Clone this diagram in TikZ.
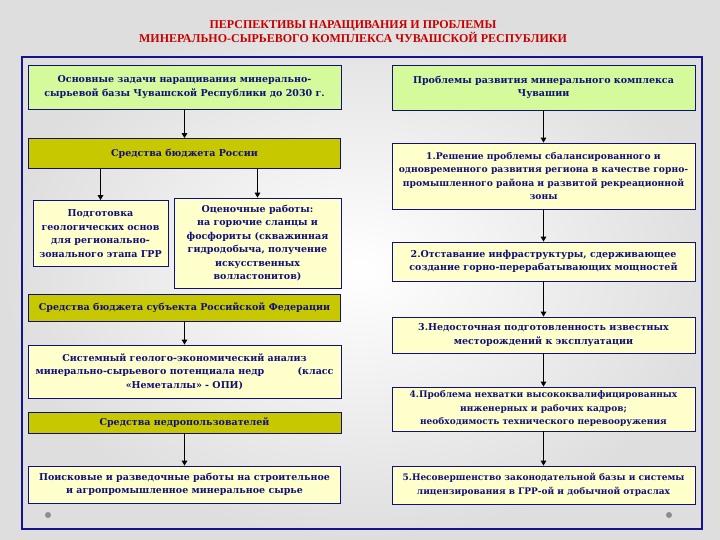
\documentclass[tikz,border=0pt]{standalone}
\usepackage{fontspec}
\setmainfont{DejaVu Serif}
\newfontfamily\titlefont{Liberation Serif}
\usetikzlibrary{arrows.meta}
\definecolor{bxblue}{HTML}{10107A}
\definecolor{frblue}{HTML}{14148C}
\definecolor{bxgreen}{HTML}{D4FA9C}
\definecolor{bxolive}{HTML}{C8C800}
\definecolor{bxyellow}{HTML}{FFFFCC}
\definecolor{ttred}{HTML}{C80000}
\begin{document}
\begin{tikzpicture}[x=1pt,y=-1pt,
  box/.style={draw=bxblue, line width=0.8pt, text=bxblue,
    font=\bfseries\fontsize{9.5}{13.5}\selectfont, align=center, inner sep=1pt},
  smallfont/.style={font=\bfseries\fontsize{9}{13.5}\selectfont},
  gbox/.style={box, fill=bxgreen},
  obox/.style={box, fill=bxolive},
  ybox/.style={box, fill=bxyellow},
  arr/.style={-{Triangle[length=5pt,width=5.5pt]}, line width=1.9pt, black}]
\useasboundingbox (0,0) rectangle (720,540);
\shade[inner color=white, outer color=black!13] (0,0) rectangle (720,540);
\draw[frblue, line width=2.3pt] (22,57) rectangle (702,529);

\node[font=\titlefont\bfseries\fontsize{12}{14}\selectfont, text=ttred, align=center] (title) at (353,32)
  {ПЕРСПЕКТИВЫ НАРАЩИВАНИЯ И ПРОБЛЕМЫ\\МИНЕРАЛЬНО-СЫРЬЕВОГО КОМПЛЕКСА ЧУВАШСКОЙ РЕСПУБЛИКИ};

% left column
\node[gbox, minimum width=313pt, minimum height=44pt] (ta) at (184.5,87)
  {Основные задачи наращивания минерально-\\сырьевой базы Чувашской Республики до 2030 г.};
\node[obox, minimum width=312pt, minimum height=30pt] (fed) at (184.5,153.5)
  {Средства бюджета России};
\node[ybox, minimum width=135pt, minimum height=66pt] (p1) at (100.5,233.5)
  {Подготовка\\геологических основ\\для регионально-\\зонального этапа ГРР};
\node[ybox, minimum width=167pt, minimum height=90pt] (p2) at (257.5,243)
  {Оценочные работы:\\на горючие сланцы и\\фосфориты (скважинная\\гидродобыча, получение\\искусственных\\волластонитов)};
\node[obox, minimum width=312pt, minimum height=27pt] (sub) at (184.5,307.5)
  {Средства бюджета субъекта Российской Федерации};
\node[ybox, minimum width=313pt, minimum height=53pt] (sys) at (184.5,371.5)
  {Системный геолого-экономический анализ\\\makebox[298pt]{минерально-сырьевого потенциала недр\hfill(класс}\\«Неметаллы» - ОПИ)};
\node[obox, minimum width=313pt, minimum height=21pt] (nedr) at (184.5,422.5)
  {Средства недропользователей};
\node[ybox, minimum width=312pt, minimum height=37pt] (pois) at (184.5,484.5)
  {Поисковые и разведочные работы на строительное\\и агропромышленное минеральное сырье};

% right column
\node[gbox, minimum width=303pt, minimum height=45pt] (tb) at (543.5,87.5)
  {Проблемы развития минерального комплекса\\Чувашии};
\node[ybox, minimum width=303pt, minimum height=66pt, font=\bfseries\fontsize{9.2}{13.5}\selectfont] (r1) at (543.5,176)
  {1.Решение проблемы сбалансированного и\\одновременного развития региона в качестве горно-\\промышленного района и развитой рекреационной\\зоны};
\node[ybox, minimum width=303pt, minimum height=39pt] (r2) at (543.5,261.5)
  {2.Отставание инфраструктуры, сдерживающее\\создание горно-перерабатывающих мощностей};
\node[ybox, minimum width=303pt, minimum height=36pt] (r3) at (543.5,335)
  {3.Недосточная подготовленность известных\\месторождений к эксплуатации};
\node[ybox, smallfont, minimum width=303pt, minimum height=44pt] (r4) at (543.5,409)
  {4.Проблема нехватки высококвалифицированных\\инженерных и рабочих кадров;\\необходимость технического перевооружения};
\node[ybox, smallfont, minimum width=303pt, minimum height=38pt] (r5) at (543.5,485)
  {5.Несовершенство законодательной базы и системы\\лицензирования в ГРР-ой и добычной отраслах};

% connectors
\draw[arr] (ta.south) -- (ta.south |- fed.north);
\draw[arr] (p1.north |- fed.south) -- (p1.north);
\draw[arr] (p2.north |- fed.south) -- (p2.north);
\draw[arr] (sys.north |- sub.south) -- (sys.north);
\draw[arr] (pois.north |- nedr.south) -- (pois.north);
\draw[arr] (tb.south) -- (r1.north);
\draw[arr] (r1.south) -- (r2.north);
\draw[arr] (r2.south) -- (r3.north);
\draw[arr] (r3.south) -- (r4.north);
\draw[arr] (r4.south) -- (r5.north);

% decorative dots
\fill[black!45] (48,515) circle (3pt);
\fill[black!45] (669,515) circle (3pt);
\end{tikzpicture}
\end{document}
